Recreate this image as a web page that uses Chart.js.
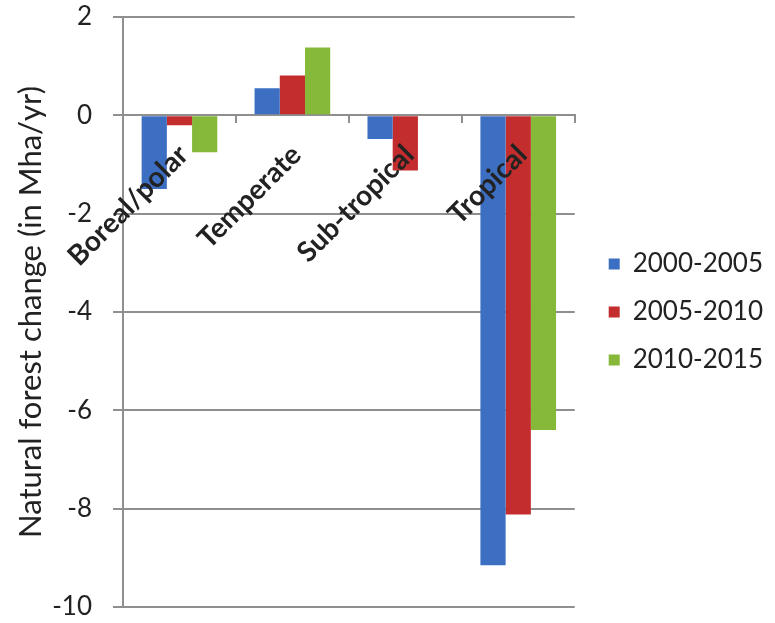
<!DOCTYPE html>
<html lang="en">
<head>
  <meta charset="UTF-8">
  <title>Natural forest change by climatic domain</title>
  <script src="https://cdn.jsdelivr.net/npm/chart.js"></script>
  <style>
    body {
      margin: 0;
      background: #fff;
    }
    canvas {
      display: block;
    }
  </style>
</head>
<body>

  <canvas id="forestChart" width="775" height="623"></canvas>

  <script>
    // climatic domains and the three reporting periods
    const domains = ["Boreal/polar", "Temperate", "Sub-tropical", "Tropical"];
    const periods = ["2000-2005", "2005-2010", "2010-2015"];

    // natural forest change, Mha per year
    const change2000to2005 = [-1.5, 0.55, -0.48, -9.15];
    const change2005to2010 = [-0.2, 0.81, -1.12, -8.12];
    const change2010to2015 = [-0.75, 1.38, 0, -6.4];

    const yMin = -10;
    const yMax = 2;
    const yStep = 2;

    const colors = ["#3c6fc2", "#c42d2d", "#86b93a"];
    const axisGray = "#8f8f8f";
    const textColor = "#222";

    const seriesValues = [change2000to2005, change2005to2010, change2010to2015];

    function draw() {
      const ctx = document.getElementById("forestChart").getContext("2d");
      new Chart(ctx, {
        type: "bar",
        data: {
          labels: domains,
          datasets: periods.map((p, i) => ({
            label: p,
            data: seriesValues[i],
            backgroundColor: colors[i],
            borderWidth: 0,
            categoryPercentage: 0.67,
            barPercentage: 1.0
          }))
        },
        options: {
          responsive: false,
          animation: false,
          layout: {
            padding: { top: 17, bottom: 16, left: 0, right: 2 }
          },
          plugins: {
            tooltip: { enabled: false },
            legend: {
              position: "right",
              maxWidth: 190,
              labels: {
                boxWidth: 11,
                boxHeight: 11,
                padding: 22,
                color: textColor,
                font: { family: "Lato", size: 26 }
              }
            }
          },
          scales: {
            x: {
              position: { y: 0 },
              offset: true,
              grid: {
                display: true,
                drawOnChartArea: false,
                drawTicks: true,
                tickLength: 7,
                offset: true,
                color: axisGray,
                lineWidth: 2
              },
              border: { display: true, color: axisGray, width: 2 },
              ticks: {
                autoSkip: false,
                minRotation: 45,
                maxRotation: 45,
                padding: 16,
                labelOffset: 4,
                z: 1,
                color: textColor,
                font: { family: "Lato", size: 28, weight: "bold" }
              },
              afterFit: function(scale) {
                // labels sit on the zero line, so the axis takes no room below
                scale.height = 0;
                scale.paddingLeft = 0;
                scale.paddingRight = 0;
              }
            },
            y: {
              min: yMin,
              max: yMax,
              grid: { color: axisGray, lineWidth: 2, tickLength: 10 },
              border: { color: axisGray, width: 2 },
              ticks: {
                stepSize: yStep,
                padding: 21,
                color: textColor,
                font: { family: "Lato", size: 26 }
              },
              title: {
                display: true,
                text: "Natural forest change (in Mha/yr)",
                color: textColor,
                font: { family: "Lato", size: 31 },
                padding: { top: 12, bottom: 0 }
              },
              afterFit: function(scale) {
                scale.width = 123;
                scale.paddingTop = 0;
                scale.paddingBottom = 0;
              }
            },
            // empty strip between the plot and the legend
            gap: {
              type: "linear",
              position: "right",
              grid: { display: false },
              border: { display: false },
              ticks: { display: false },
              afterFit: function(scale) {
                scale.width = 12;
                scale.paddingTop = 0;
                scale.paddingBottom = 0;
              }
            }
          }
        }
      });
    }

    Promise.all([
      document.fonts.load("26px Lato"),
      document.fonts.load("bold 28px Lato")
    ]).then(draw, draw);
  </script>
</body>
</html>
